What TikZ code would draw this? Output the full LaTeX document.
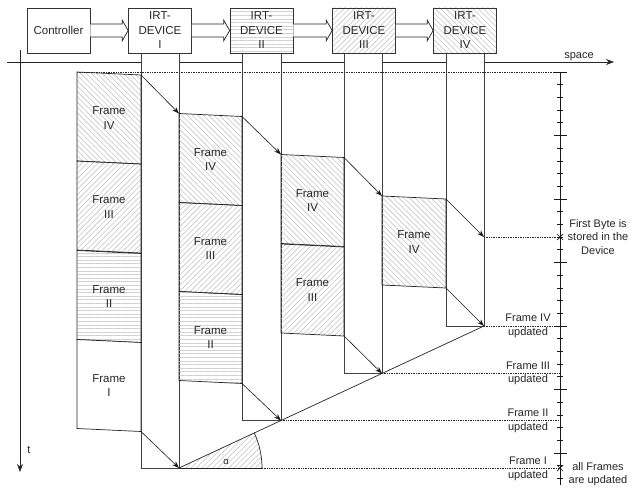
\documentclass[tikz,border=0pt]{standalone}
\usepackage{fontspec}
\setmainfont{Liberation Sans}
\usetikzlibrary{patterns,patterns.meta,arrows.meta,calc}
\newcommand{\myfr}[6]{%
  \draw[frm,#5] (#2,#4) -- (#3,#4+3) -- (#3,#4+92) -- (#2,#4+89) -- cycle;
  \node[lbl] (#1) at ({(#2+#3)/2},{#4+46}) {Frame\\#6};}
\newcommand{\myhollow}[2]{%
  \draw[harrow] ($(#1.east)+(0,-6.5)$) -- ($(#2.west)+(-6,-6.5)$) -- ($(#2.west)+(-6,-10.5)$) -- (#2.west) -- ($(#2.west)+(-6,10.5)$) -- ($(#2.west)+(-6,6.5)$) -- ($(#1.east)+(0,6.5)$);}
\begin{document}
\begin{tikzpicture}[x=1pt,y=-1pt,
  lbl/.style={font=\fontsize{11.5}{14.5}\selectfont,align=center,inner sep=0pt,text=black!85},
  rlbl/.style={font=\fontsize{11}{13.5}\selectfont,align=center,inner sep=0pt,text=black!85},
  devbox/.style={draw=black!80,line width=0.7pt,minimum width=63pt,minimum height=45pt,inner sep=0pt,lbl,fill=white},
  colbox/.style={draw=black!75,fill=white,line width=0.7pt},
  frm/.style={draw=black!85,line width=0.7pt},
  hnw/.style={pattern={Lines[angle=-45,distance=3.8pt,line width=0.6pt]},pattern color=black!22},
  hne/.style={pattern={Lines[angle=45,distance=3.8pt,line width=0.6pt]},pattern color=black!22},
  hhz/.style={pattern={Lines[angle=0,distance=3.6pt,line width=0.6pt]},pattern color=black!18},
  blank/.style={fill=white},
  dotl/.style={densely dotted,line width=0.7pt,black!85},
  arr/.style={-{Stealth[length=7pt,width=5pt]},line width=0.6pt,black!90},
  axis/.style={-{Stealth[length=8pt,width=6pt]},line width=0.7pt,black!85},
  harrow/.style={draw=black!85,line width=0.7pt,fill=white},
  tick/.style={line width=0.7pt,black!90},
]
\useasboundingbox (0,0) rectangle (643,487);
\fill[white] (0,0) rectangle (643,487);
% axes
\coordinate (sx0) at (7,62); \coordinate (sx1) at (614,62);
\coordinate (tx0) at (20,50); \coordinate (tx1) at (20,472);
\draw[axis] (sx0) -- (sx1);
\draw[axis] (tx0) -- (tx1);
\node[rlbl,anchor=south] (space) at (579,61) {space};
\node[rlbl] (tlab) at (29,450) {t};
% device columns
\draw[colbox] (141,53) -- (141,468) -- (179,468) -- (179,53);
\draw[colbox] (242,53) -- (242,420.5) -- (281,420.5) -- (281,53);
\draw[colbox] (344,53) -- (344,373.5) -- (382,373.5) -- (382,53);
\draw[colbox] (446,53) -- (446,326) -- (484,326) -- (484,53);
% frames
\myfr{f0a}{77}{141}{72}{hnw}{IV}
\myfr{f0b}{77}{141}{161}{hne}{III}
\myfr{f0c}{77}{141}{250.5}{hhz}{II}
\myfr{f0d}{77}{141}{339.5}{blank}{I}
\myfr{f1a}{179}{242}{113.5}{hnw}{IV}
\myfr{f1b}{179}{242}{202.5}{hne}{III}
\myfr{f1c}{179}{242}{291.5}{hhz}{II}
\myfr{f2a}{281}{344}{154.5}{hnw}{IV}
\myfr{f2b}{281}{344}{244}{hne}{III}
\myfr{f3a}{382}{446}{196}{hnw}{IV}
% key points
\coordinate (top0) at (77,72);
\coordinate (a0) at (141,75);    \coordinate (b1) at (179,113.5);
\coordinate (a1) at (242,116.5); \coordinate (b2) at (281,154.5);
\coordinate (a2) at (344,157.5); \coordinate (b3) at (382,196);
\coordinate (a3) at (446,199);   \coordinate (b4) at (484,237);
\coordinate (c0) at (141,431.5); \coordinate (d1) at (179,468);
\coordinate (c1) at (242,383.5); \coordinate (d2) at (281,420.5);
\coordinate (c2) at (344,336);   \coordinate (d3) at (382,373.5);
\coordinate (c3) at (446,288);   \coordinate (d4) at (484,326);
\coordinate (arcend) at (262,468);
% sector alpha
\fill[hne] (d1) -- (arcend) -- plot[domain=0:25,samples=25] ({179+83*cos(\x)},{468-83*sin(\x)}) -- cycle;
\draw[frm] plot[domain=0:25,samples=25] ({179+83*cos(\x)},{468-83*sin(\x)});
\draw[frm] (d1) -- (arcend);
\draw[frm] (d1) -- (d4);
\node[font=\fontsize{9.5}{10}\selectfont,text=black!85] (alpha) at (226,462) {α};
% right time scale
\coordinate (ra0) at (560,72); \coordinate (ra1) at (560,485);
\coordinate (m1) at (560,237); \coordinate (m4) at (560,326);
\coordinate (m3) at (560,373.5); \coordinate (m2) at (560,420.5);
\coordinate (m0) at (560,468); \coordinate (topend) at (566,72);
% dotted lines
\draw[dotl] (top0) -- (topend);
\draw[dotl] (b4) -- (m1);
\draw[dotl] (d4) -- (m4);
\draw[dotl] (d3) -- (m3);
\draw[dotl] (d2) -- (m2);
\draw[dotl] (arcend) -- (m0);
\draw[tick] (ra0) -- (ra1);
\foreach \n in {0,...,32}{
  \pgfmathsetmacro{\yy}{72+12.7*\n}
  \pgfmathtruncatemacro{\md}{mod(\n,5)}
  \ifnum\md=0
    \draw[tick] (554,\yy) -- (567,\yy);
  \else
    \draw[tick] (557,\yy) -- (563,\yy);
  \fi
}
\draw[tick] ($(m1)+(-3,-3)$) -- ($(m1)+(3,3)$) ($(m1)+(-3,3)$) -- ($(m1)+(3,-3)$);
\draw[tick] ($(m0)+(-3,-3)$) -- ($(m0)+(3,3)$) ($(m0)+(-3,3)$) -- ($(m0)+(3,-3)$);
% arrows
\draw[arr] (a0) -- (b1);
\draw[arr] (a1) -- (b2);
\draw[arr] (a2) -- (b3);
\draw[arr] (a3) -- (b4);
\draw[arr] (c0) -- (d1);
\draw[arr] (c1) -- (d2);
\draw[arr] (c2) -- (d3);
\draw[arr] (c3) -- (d4);
% right labels
\node[rlbl] (lfirst) at (598,237) {First Byte is\\stored in the\\Device};
\node[rlbl] (l4) at (528,326) {Frame IV\\updated};
\node[rlbl] (l3) at (528,373.5) {Frame III\\updated};
\node[rlbl] (l2) at (528,421) {Frame II\\updated};
\node[rlbl] (l1) at (528,469) {Frame I\\updated};
\node[rlbl] (lall) at (598,474) {all Frames\\are updated};
% top boxes
\node[devbox] (ctrl) at (58.5,30.5) {Controller};
\node[devbox] (dv1) at (160,30.5) {IRT-\\DEVICE\\I};
\node[devbox,hhz] (dv2) at (261.5,30.5) {IRT-\\DEVICE\\II};
\node[devbox,hne] (dv3) at (364,30.5) {IRT-\\DEVICE\\III};
\node[devbox,hnw] (dv4) at (465,30.5) {IRT-\\DEVICE\\IV};
\myhollow{ctrl}{dv1}
\myhollow{dv1}{dv2}
\myhollow{dv2}{dv3}
\myhollow{dv3}{dv4}
\end{tikzpicture}
\end{document}
